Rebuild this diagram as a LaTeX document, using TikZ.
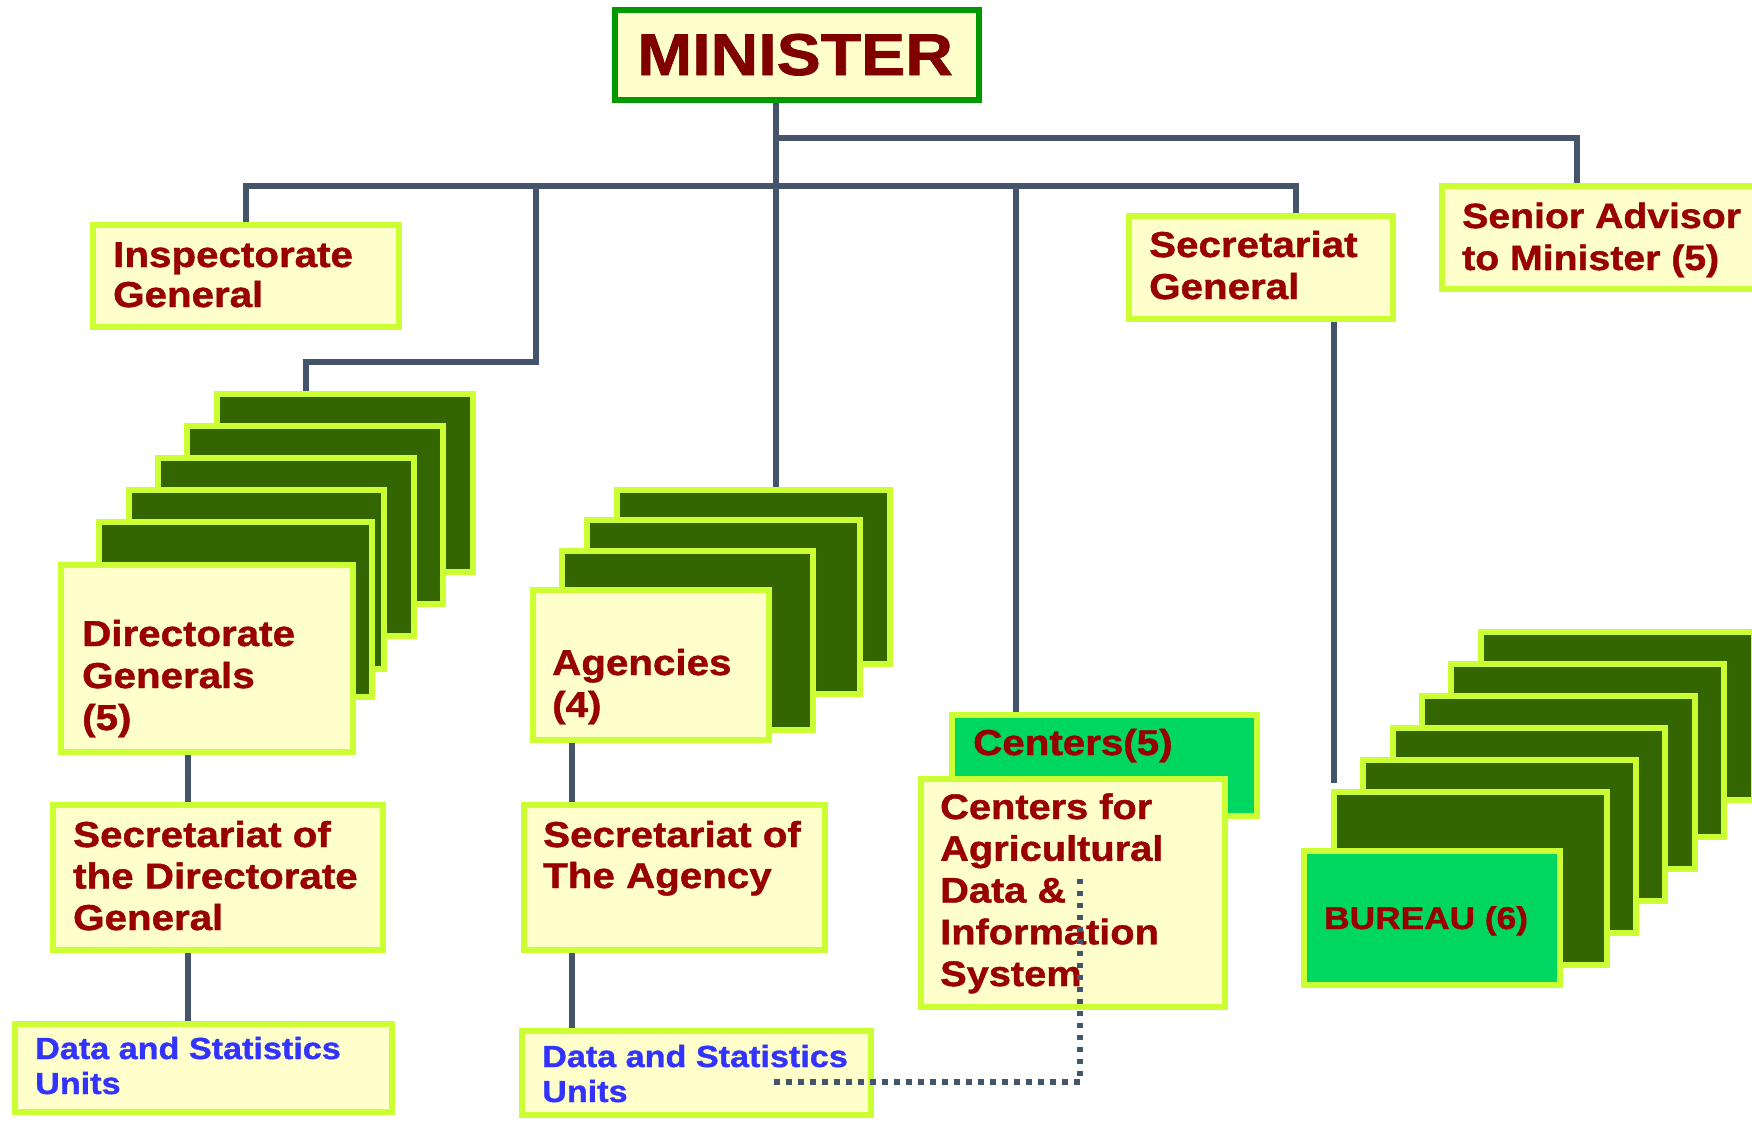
\documentclass[tikz,border=0pt]{standalone}
\usepackage{fontspec}
\newfontfamily\orgfont[FakeStretch=1.12, BoldFeatures={FakeBold=1.2}]{Liberation Sans}
\usetikzlibrary{calc}

\definecolor{limeedge}{HTML}{CCFF33}
\definecolor{paleyellow}{HTML}{FFFFCC}
\definecolor{darkleaf}{HTML}{336600}
\definecolor{brightgreen}{HTML}{00D760}
\definecolor{ministergreen}{HTML}{009900}
\definecolor{slateline}{HTML}{44546A}
\definecolor{labelred}{HTML}{990000}
\definecolor{ministerred}{HTML}{800000}
\definecolor{unitblue}{HTML}{3333FF}

\tikzset{
	ybox/.style={draw=limeedge, fill=paleyellow, line width=6pt, inner sep=0pt},
	dbox/.style={draw=limeedge, fill=darkleaf, line width=6pt, inner sep=0pt},
	gbox/.style={draw=limeedge, fill=brightgreen, line width=6pt, inner sep=0pt},
	mbox/.style={draw=ministergreen, fill=paleyellow, line width=6pt, inner sep=0pt},
	conn/.style={draw=slateline, line width=5.5pt},
	dotconn/.style={draw=slateline, line width=5.5pt, dash pattern=on 5.5pt off 6.5pt},
	% labels hang from the baseline of their last line
	lbl/.style={anchor=base west, inner sep=0pt, align=left, text=labelred, font=\orgfont\bfseries\fontsize{36}{42}\selectfont},
	unitlbl/.style={lbl, text=unitblue, font=\orgfont\bfseries\fontsize{30.5}{35}\selectfont},
}
% box from its outer corners: name, style, x1, y1, x2, y2 (pixels, y downwards)
\def\orgbox#1#2#3#4#5#6{\node[#2, minimum width={#5-#3-6}, minimum height={#6-#4-6}] (#1) at ({(#3+#5)/2},{(#4+#6)/2}) {};}

\begin{document}
\begin{tikzpicture}[x=1pt, y=-1pt]
			%%%%% START %%%%%
			\useasboundingbox (0,0) rectangle (1752,1120);
			\clip (0,0) rectangle (1752,1120);
			
			\orgbox{min}{mbox}{612}{7}{982}{103}
			\orgbox{insp}{ybox}{90}{222}{402}{330}
			\orgbox{sg}{ybox}{1126}{213}{1396}{322}
			\orgbox{sam}{ybox}{1439}{183}{1775}{292}
			
			\orgbox{dg1}{dbox}{214}{391}{476}{575}
			\orgbox{dg2}{dbox}{184}{423}{446}{607}
			\orgbox{dg3}{dbox}{155}{455}{417}{639}
			\orgbox{dg4}{dbox}{126}{487}{387}{672}
			\orgbox{dg5}{dbox}{96}{519}{375}{700}
			\orgbox{dg}{ybox}{58}{562}{356}{755}
			
			\orgbox{ag1}{dbox}{614}{487}{893}{667}
			\orgbox{ag2}{dbox}{584}{517}{863}{697}
			\orgbox{ag3}{dbox}{559}{548}{816}{733}
			\orgbox{agn}{ybox}{530}{587}{772}{743}
			
			\orgbox{cen}{gbox}{949}{712}{1260}{819}
			\orgbox{cad}{ybox}{918}{776}{1228}{1010}
			
			\orgbox{bu1}{dbox}{1478}{629}{1757}{803}
			\orgbox{bu2}{dbox}{1448}{661}{1727}{840}
			\orgbox{bu3}{dbox}{1419}{693}{1698}{872}
			\orgbox{bu4}{dbox}{1390}{725}{1668}{904}
			\orgbox{bu5}{dbox}{1360}{757}{1639}{936}
			\orgbox{bu6}{dbox}{1331}{789}{1610}{968}
			\orgbox{bur}{gbox}{1301}{848}{1563}{988}
			
			\orgbox{sdg}{ybox}{50}{802}{386}{953}
			\orgbox{sag}{ybox}{521}{802}{828}{953}
			\orgbox{dsu1}{ybox}{12}{1021}{395}{1115}
			\orgbox{dsu2}{ybox}{519}{1028}{874}{1118}
			
			% where the lines run
			\coordinate (lowbar) at (776,186);
			\coordinate (highbar) at (776,138);
			\coordinate (samline) at (1577,0);
			\coordinate (sgline) at (1296,0);
			\coordinate (cenline) at (1016,0);
			\coordinate (dgelbow) at (536,362);
			\coordinate (dgtop) at (306,362);
			\coordinate (burline) at (1334,0);
			\coordinate (dgline) at (188,0);
			\coordinate (agline) at (572,0);
			\coordinate (dotstart) at (774,1082);
			\coordinate (dotend) at (1080,874);
			
			\draw[conn] (min.south -| lowbar) -- (lowbar |- ag1.north);
			\draw[conn] (highbar) -| (samline |- sam.north);
			\draw[conn] (insp.north) |- (lowbar) -| (sgline |- sg.north);
			\draw[conn] (cenline |- lowbar) -- (cenline |- cen.north);
			\draw[conn] (dgelbow |- lowbar) -- (dgelbow) -- (dgtop) -- (dgtop |- dg1.north);
			\draw[conn, shorten >=6pt] (burline |- sg.south) -- (burline |- bu6.north);
			
			\draw[conn] (dgline |- dg.south) -- (dgline |- sdg.north);
			\draw[conn] (dgline |- sdg.south) -- (dgline |- dsu1.north);
			\draw[conn] (agline |- agn.south) -- (agline |- sag.north);
			\draw[conn] (agline |- sag.south) -- (agline |- dsu2.north);
			
			\node[lbl, text=ministerred, font=\orgfont\bfseries\fontsize{59}{60}\selectfont] (min-t) at (637,75) {MINISTER};
			\node[lbl, font=\orgfont\bfseries\fontsize{36}{40}\selectfont] (insp-t) at (113,307) {Inspectorate\\General};
			\node[lbl] (sg-t) at (1149,299) {Secretariat\\General};
			\node[lbl, font=\orgfont\bfseries\fontsize{35}{42}\selectfont] (sam-t) at (1462,270) {Senior Advisor\\to Minister (5)};
			\node[lbl] (dg-t) at (82,730) {Directorate\\Generals\\(5)};
			\node[lbl] (agn-t) at (552,717) {Agencies\\(4)};
			\node[lbl] (cen-t) at (973,755) {Centers(5)};
			\node[lbl, font=\orgfont\bfseries\fontsize{35.5}{41.75}\selectfont] (cad-t) at (940,986) {Centers for\\Agricultural\\Data \&\\Information\\System};
			\node[lbl, font=\orgfont\bfseries\fontsize{31.5}{36}\selectfont] (bur-t) at (1324,929) {BUREAU (6)};
			\node[lbl, font=\orgfont\bfseries\fontsize{36}{41.5}\selectfont] (sdg-t) at (73,930) {Secretariat of\\the Directorate\\General};
			\node[lbl, font=\orgfont\bfseries\fontsize{36}{41}\selectfont] (sag-t) at (543,888) {Secretariat of\\The Agency};
			\node[unitlbl] (dsu1-t) at (35,1094) {Data and Statistics\\Units};
			\node[unitlbl] (dsu2-t) at (542,1102) {Data and Statistics\\Units};
			
			\draw[dotconn] (dotstart) -| (dotend);
			%%%%% END %%%%%
\end{tikzpicture}
\end{document}
